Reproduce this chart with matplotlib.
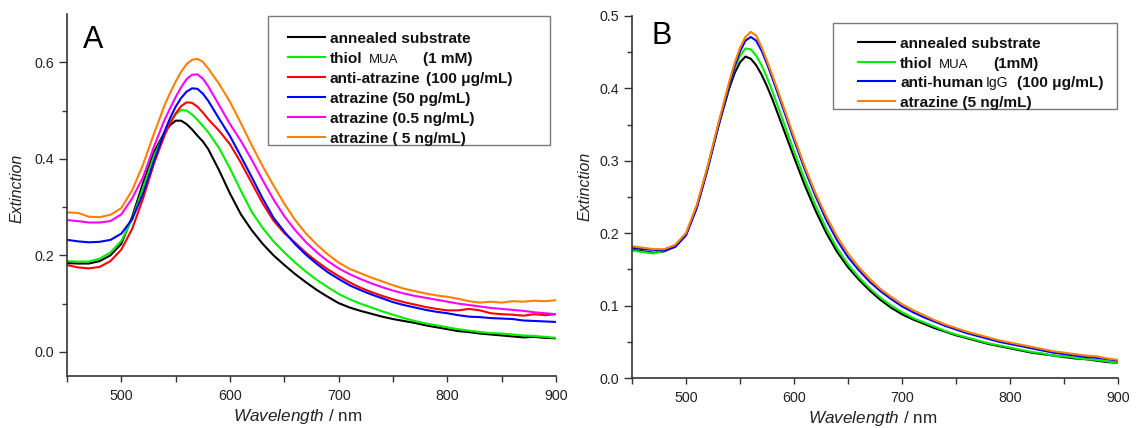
import matplotlib
matplotlib.use("Agg")
import matplotlib.pyplot as plt
from matplotlib.lines import Line2D
from matplotlib.patches import Rectangle
from matplotlib.ticker import MultipleLocator, FixedLocator, FormatStrFormatter

plt.rcParams['font.family'] = ['Liberation Sans', 'DejaVu Sans']
plt.rcParams['mathtext.fontset'] = 'custom'
plt.rcParams['mathtext.rm'] = 'Liberation Sans'
plt.rcParams['mathtext.it'] = 'Liberation Sans:italic'

# Wavelength grid (nm)
wavelength = [450, 460, 470, 480, 490, 500, 510, 520, 530, 540,
              545, 550, 555, 560, 565, 570, 575, 580,
              590, 600, 610, 620, 630, 640, 650, 660, 670, 680, 690, 700,
              710, 720, 730, 740, 750, 760, 770, 780, 790, 800,
              810, 820, 830, 840, 850, 860, 870, 880, 890, 900]

# Panel A: atrazine immunoassay
a_substrate = [.184, .183, .183, .188, .200, .224, .280, .350, .414, .456,
               .470, .479, .479, .472, .461, .448, .436, .420,
               .376, .328, .285, .252, .224, .200, .180, .161, .144, .128, .114, .101,
               .092, .085, .079, .073, .068, .064, .060, .055, .051, .047,
               .043, .041, .038, .036, .034, .032, .030, .031, .029, .028]
a_mua = [.188, .187, .187, .193, .206, .230, .275, .340, .405, .455,
         .476, .492, .501, .500, .492, .481, .468, .455,
         .422, .380, .334, .290, .257, .229, .206, .185, .166, .149, .134, .120,
         .109, .100, .092, .084, .077, .070, .064, .059, .055, .051,
         .047, .044, .041, .039, .038, .036, .034, .033, .031, .029]
a_anti = [.180, .175, .173, .176, .188, .212, .255, .318, .390, .450,
          .474, .494, .509, .517, .516, .508, .496, .482,
          .458, .430, .392, .350, .308, .272, .246, .226, .205, .187, .171, .157,
          .144, .133, .124, .116, .109, .103, .098, .093, .089, .086,
          .086, .089, .086, .080, .078, .077, .075, .078, .076, .078]
a_atz_50pg = [.232, .229, .227, .228, .232, .245, .275, .328, .395, .458,
              .485, .508, .526, .539, .546, .545, .535, .520,
              .483, .447, .405, .362, .318, .278, .249, .223, .201, .182, .165, .151,
              .138, .128, .119, .111, .103, .097, .092, .087, .083, .080,
              .076, .073, .072, .070, .069, .068, .065, .064, .063, .062]
a_atz_05ng = [.273, .271, .268, .268, .271, .285, .318, .362, .425, .482,
              .505, .528, .548, .565, .574, .575, .566, .550,
              .511, .472, .437, .398, .356, .316, .281, .252, .227, .206, .188, .173,
              .161, .151, .142, .134, .127, .121, .116, .112, .108, .104,
              .100, .097, .094, .091, .089, .087, .085, .082, .080, .078]
a_atz_5ng = [.289, .288, .280, .279, .284, .298, .335, .388, .452, .512,
             .537, .560, .580, .596, .605, .607, .601, .587,
             .555, .518, .474, .428, .385, .345, .307, .273, .245, .222, .202, .185,
             .172, .163, .154, .146, .138, .131, .126, .121, .117, .114,
             .110, .105, .102, .104, .102, .105, .104, .106, .105, .107]

# Panel B: control with anti-human IgG
b_substrate = [.177, .175, .173, .175, .182, .198, .236, .290, .348, .400,
               .421, .436, .444, .441, .432, .419, .403, .385,
               .345, .305, .266, .231, .200, .174, .153, .136, .121, .108, .097, .088,
               .081, .075, .069, .064, .059, .055, .051, .047, .044, .041,
               .038, .035, .033, .031, .029, .027, .026, .024, .022, .021]
b_mua = [.176, .174, .172, .176, .183, .199, .237, .291, .350, .404,
         .428, .445, .455, .454, .445, .432, .415, .396,
         .355, .313, .274, .238, .206, .179, .157, .139, .124, .111, .100, .091,
         .083, .077, .071, .065, .060, .056, .052, .048, .045, .042,
         .039, .036, .034, .031, .030, .028, .026, .025, .023, .021]
b_anti_igg = [.180, .178, .177, .176, .181, .197, .235, .288, .348, .404,
              .430, .451, .466, .471, .466, .452, .434, .414,
              .372, .329, .288, .251, .218, .190, .167, .149, .133, .120, .109, .099,
              .091, .084, .078, .072, .067, .062, .058, .054, .050, .047,
              .044, .041, .038, .035, .033, .031, .029, .028, .026, .024]
b_atz_5ng = [.182, .180, .178, .178, .184, .200, .239, .292, .352, .409,
             .435, .456, .471, .478, .473, .457, .438, .418,
             .376, .333, .292, .255, .223, .195, .172, .153, .137, .123, .112, .102,
             .094, .087, .080, .074, .069, .064, .060, .056, .052, .049,
             .046, .043, .040, .037, .035, .033, .031, .030, .027, .025]

colors_a = ['#000000', '#00ee00', '#ff0000', '#0000ff', '#ff00ff', '#ff8000']
colors_b = ['#000000', '#00ee00', '#0000ff', '#ff8000']

W, H = 1136, 428
fig = plt.figure(figsize=(W / 100, H / 100), dpi=100)


def px(x, y):
    return x / W, 1 - y / H


def axes_at(x0, y0, x1, y1):
    return fig.add_axes([x0 / W, 1 - y1 / H, (x1 - x0) / W, (y1 - y0) / H])


ax_a = axes_at(67, 14, 556, 376)
ax_b = axes_at(632, 16, 1118, 378)

for ax, series, cols in ((ax_a, [a_substrate, a_mua, a_anti, a_atz_50pg, a_atz_05ng, a_atz_5ng], colors_a),
                         (ax_b, [b_substrate, b_mua, b_anti_igg, b_atz_5ng], colors_b)):
    for vals, c in zip(series, cols):
        ax.plot(wavelength, vals, color=c, lw=1.5, solid_joinstyle='round')

ax_a.set_ylim(-0.05, 0.70)
ax_a.yaxis.set_major_locator(FixedLocator([0.0, 0.2, 0.4, 0.6]))
ax_a.yaxis.set_minor_locator(FixedLocator([0.1, 0.3, 0.5]))
ax_b.set_ylim(0.0, 0.5)
ax_b.yaxis.set_major_locator(MultipleLocator(0.1))
ax_b.yaxis.set_minor_locator(MultipleLocator(0.05))

for ax in (ax_a, ax_b):
    ax.set_xlim(450, 900)
    ax.xaxis.set_major_locator(MultipleLocator(100))
    ax.xaxis.set_minor_locator(MultipleLocator(50))
    ax.yaxis.set_major_formatter(FormatStrFormatter('%.1f'))
    for s in ('top', 'right'):
        ax.spines[s].set_visible(False)
    for s in ('left', 'bottom'):
        ax.spines[s].set_color('#333333')
        ax.spines[s].set_linewidth(1.2)
    ax.tick_params(axis='both', which='both', direction='out', color='#333333',
                   width=1.0, labelcolor='#222222')
    ax.tick_params(axis='y', which='major', length=6, pad=3, labelsize=10.3)
    ax.tick_params(axis='y', which='minor', length=3.3)
    ax.tick_params(axis='x', which='both', length=4.3, pad=5, labelsize=10.3)
    ax.set_xlabel(r"$\mathit{Wavelength}$ / nm", fontsize=12.3, color='#222222')
    ax.set_ylabel("Extinction", fontsize=11.5, style='italic', color='#222222')

ax_a.xaxis.set_label_coords((298 - 67) / 489, -(417 - 376) / 362, transform=ax_a.transAxes)
ax_a.yaxis.set_label_coords(-(67 - 17) / 489, (376 - 188) / 362, transform=ax_a.transAxes)
ax_b.xaxis.set_label_coords((873 - 632) / 486, -(419 - 378) / 362, transform=ax_b.transAxes)
ax_b.yaxis.set_label_coords(-(632 - 585) / 486, (378 - 186) / 362, transform=ax_b.transAxes)
for ax in (ax_a, ax_b):
    ax.xaxis.label.set_va('center')
    ax.yaxis.label.set_va('center')

# Panel letters
fig.text(*px(83, 48), "A", fontsize=22, ha='left', va='baseline')
fig.text(*px(652, 44), "B", fontsize=22, ha='left', va='baseline')


def draw_legend(box, handle_x, rows):
    x0, y0, x1, y1 = box
    bx, by = px(x0, y1)
    fig.add_artist(Rectangle((bx, by), (x1 - x0) / W, (y1 - y0) / H,
                             transform=fig.transFigure, fill=False,
                             edgecolor='#7a7a7a', linewidth=1.0))
    for y, color, pieces in rows:
        hx0, hy = px(handle_x[0], y)
        hx1, _ = px(handle_x[1], y)
        fig.add_artist(Line2D([hx0, hx1], [hy, hy], transform=fig.transFigure,
                              color=color, lw=1.5))
        for x, text, weight, size in pieces:
            fig.text(*px(x, y + 6.3), text, fontsize=size, fontweight=weight,
                     ha='left', va='baseline', color='#111111')


draw_legend((268, 16, 550, 145), (288, 325), [
    (36.7, colors_a[0], [(330, "annealed substrate", 'bold', 11.1)]),
    (56.7, colors_a[1], [(330, "thiol", 'bold', 11.1), (369, "MUA", 'normal', 9.5),
                         (423, "(1 mM)", 'bold', 11.1)]),
    (76.7, colors_a[2], [(330, "anti-atrazine", 'bold', 11.1), (425.5, "(100 \u03bcg/mL)", 'bold', 11.1)]),
    (96.7, colors_a[3], [(330, "atrazine (50 pg/mL)", 'bold', 11.1)]),
    (116.7, colors_a[4], [(330, "atrazine (0.5 ng/mL)", 'bold', 11.1)]),
    (136.7, colors_a[5], [(330, "atrazine ( 5 ng/mL)", 'bold', 11.1)]),
])

draw_legend((832.7, 22.7, 1117, 109.3), (858, 895), [
    (41.7, colors_b[0], [(900, "annealed substrate", 'bold', 11.1)]),
    (61.7, colors_b[1], [(900, "thiol", 'bold', 11.1), (939, "MUA", 'normal', 9.5),
                         (993, "(1mM)", 'bold', 11.1)]),
    (81.0, colors_b[2], [(900, "anti-human", 'bold', 11.1), (986, "IgG", 'normal', 10),
                         (1017, "(100 \u03bcg/mL)", 'bold', 11.1)]),
    (100.7, colors_b[3], [(900, "atrazine (5 ng/mL)", 'bold', 11.1)]),
])

fig.savefig("out.png", dpi=100)
